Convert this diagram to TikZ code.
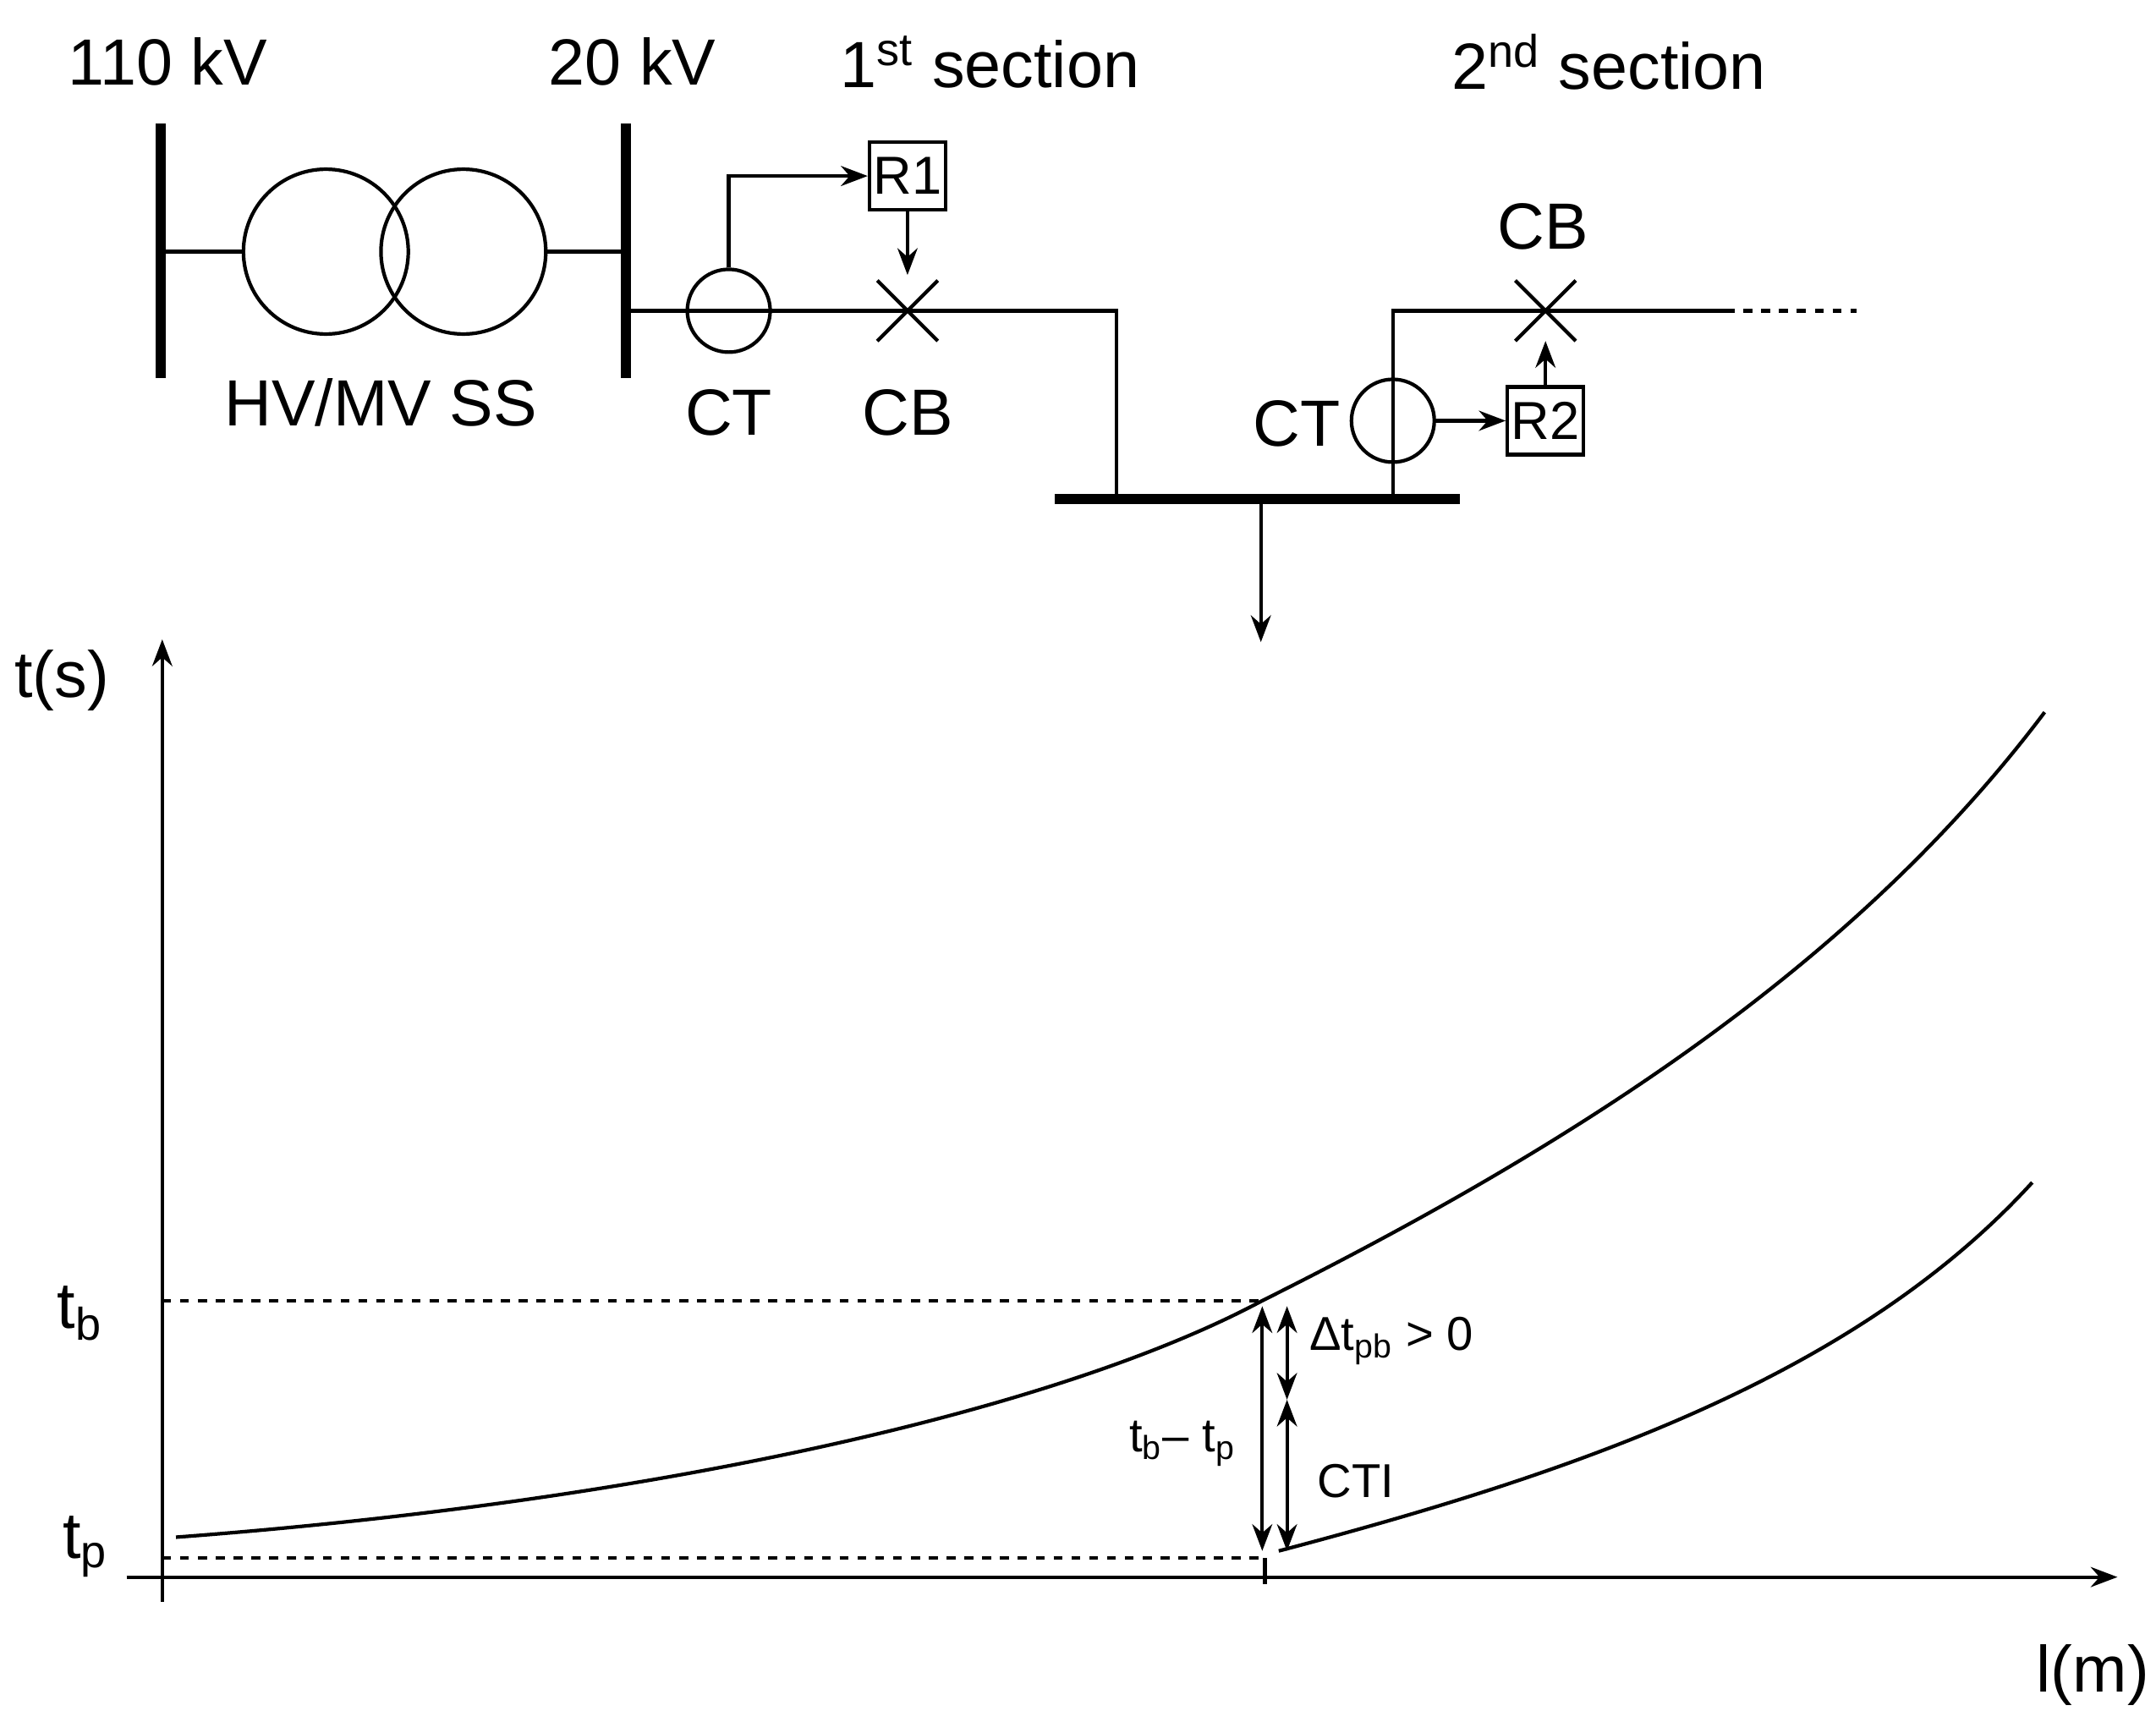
\documentclass[tikz,border=0pt]{standalone}
\usepackage{fontspec}
\setmainfont{Liberation Sans}
\usetikzlibrary{arrows.meta,positioning}
\begin{document}
\begin{tikzpicture}[x=0.01626cm,y=-0.01626cm,
        line width=1.2pt,
        bus/.style={line width=3.5pt},
        arrow/.style={-{Stealth[length=9pt]}},
        darrow/.style={{Stealth[length=9pt]}-{Stealth[length=9pt]}},
        relay/.style={rectangle, draw, minimum width=0.9cm, minimum height=0.8cm, inner sep=1pt, font=\fontsize{18}{20}\selectfont},
        ct/.style={circle, draw, minimum size=0.98cm, inner sep=0pt},
        tr/.style={circle, draw, minimum size=1.95cm, inner sep=0pt},
        lbl/.style={font=\fontsize{22}{26}\selectfont},
        small/.style={font=\fontsize{16}{19}\selectfont}
    ]
        \useasboundingbox (0,0) rectangle (1568,1260);
        % Buses
        \coordinate (b1t) at (117,90); \coordinate (b1b) at (117,275);
        \coordinate (b2t) at (455,90); \coordinate (b2b) at (455,275);
        \draw[bus] (b1t) -- (b1b);
        \draw[bus] (b2t) -- (b2b);
        \node[lbl] at (122,45) {110 kV};
        \node[lbl] at (460,45) {20 kV};
        \node[lbl] at (720,45) {1\textsuperscript{st} section};
        \node[lbl] at (1170,45) {2\textsuperscript{nd} section};
        % Transformer
        \node[tr] (tr1) at (237,183) {};
        \node[tr] (tr2) at (337,183) {};
        \draw (117,183) -- (tr1.west);
        \draw (tr2.east) -- (455,183);
        \node[lbl] at (277,293) {HV/MV SS};
        % 1st section
        \node[ct] (ct1) at (530,226) {};
        \coordinate (cb1) at (660,226);
        \draw (455,226) -- (812,226) -- (812,363);
        \draw (cb1) +(-22,-22) -- +(22,22) +(-22,22) -- +(22,-22);
        \node[relay] (r1) at (660,128) {R1};
        \draw[arrow] (ct1.north) |- (r1.west);
        \draw[arrow] (r1.south) -- (660,200);
        \node[lbl] at (530,300) {CT};
        \node[lbl] at (660,300) {CB};
        % Busbar
        \draw[bus] (767,363) -- (1062,363);
        \draw[arrow] (917,363) -- (917,467);
        % 2nd section
        \node[ct] (ct2) at (1013,306) {};
        \coordinate (cb2) at (1124,226);
        \draw (1013,363) -- (1013,226) -- (1255,226);
        \draw[dashed] (1255,226) -- (1350,226);
        \draw (cb2) +(-22,-22) -- +(22,22) +(-22,22) -- +(22,-22);
        \node[relay] (r2) at (1124,306) {R2};
        \draw[arrow] (ct2.east) -- (r2.west);
        \draw[arrow] (r2.north) -- (1124,248);
        \node[lbl] at (943,308) {CT};
        \node[lbl] at (1122,165) {CB};
        % Axes
        \coordinate (o) at (118,1147);
        \draw[arrow] (118,1165) -- (118,465);
        \draw[arrow] (92,1147) -- (1540,1147);
        \node[lbl] at (45,495) {t(s)};
        \node[lbl] at (1522,1218) {l(m)};
        \node[lbl] at (58,955) {t\textsubscript{b}};
        \node[lbl] at (62,1125) {t\textsubscript{p}};
        % Curves
        \coordinate (pb) at (918,946);
        \coordinate (pp) at (930,1128);
        \draw (128,1118) .. controls (500,1090) and (780,1020) .. (pb)
              .. controls (1150,830) and (1350,700) .. (1487,518);
        \draw (pp) .. controls (1150,1070) and (1350,1000) .. (1478,860);
        \draw[dashed] (118,946) -- (pb);
        \draw[dashed] (118,1133) -- (920,1133);
        \draw (920,1133) -- (920,1152);
        % Intervals
        \draw[darrow] (918,950) -- (918,1128);
        \draw[darrow] (936,950) -- (936,1018);
        \draw[darrow] (936,1018) -- (936,1128);
        \node[small] at (860,1050) {t\textsubscript{b}-- t\textsubscript{p}};
        \node[small] at (1012,975) {Δt\textsubscript{pb} > 0};
        \node[small] at (986,1077) {CTI};
    \end{tikzpicture}
\end{document}
